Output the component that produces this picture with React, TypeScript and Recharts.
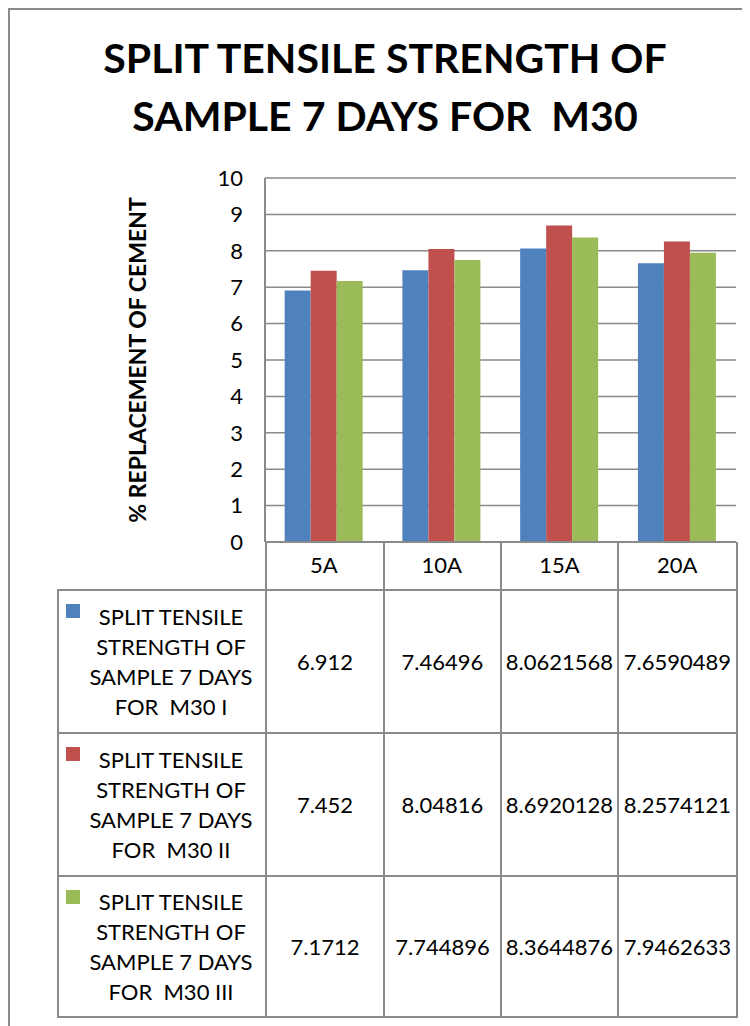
import { Bar, BarChart, CartesianGrid, XAxis, YAxis } from "recharts"

const categories = ["5A", "10A", "15A", "20A"]
const seriesNames = [
  "SPLIT TENSILE STRENGTH OF SAMPLE 7 DAYS FOR  M30 I",
  "SPLIT TENSILE STRENGTH OF SAMPLE 7 DAYS FOR  M30 II",
  "SPLIT TENSILE STRENGTH OF SAMPLE 7 DAYS FOR  M30 III",
]
const seriesI = [6.912, 7.46496, 8.0621568, 7.6590489]
const seriesII = [7.452, 8.04816, 8.6920128, 8.2574121]
const seriesIII = [7.1712, 7.744896, 8.3644876, 7.9462633]
const yTicks = [0, 1, 2, 3, 4, 5, 6, 7, 8, 9, 10]
const colors = ["#4F81BD", "#C0504D", "#9BBB59"]

const allSeries = [seriesI, seriesII, seriesIII]
const data = categories.map((name, i) => ({
  name,
  s0: seriesI[i],
  s1: seriesII[i],
  s2: seriesIII[i],
}))

const font = "Lato, 'Open Sans', sans-serif"
const line = "2px solid #8a8a8a"
const colW = [208, 118, 117, 117, 119]

// splits the long series name into the four lines Excel wrapped it into
function nameLines(n: string) {
  const rest = n.replace("SPLIT TENSILE STRENGTH OF SAMPLE 7 DAYS ", "")
  return ["SPLIT TENSILE", "STRENGTH OF", "SAMPLE 7 DAYS", rest]
}

export default function App() {
  return (
    <div
      style={{
        position: "relative",
        width: 760,
        height: 1040,
        borderLeft: line,
        borderTop: line,
        fontFamily: font,
        background: "#fff",
      }}
    >
      <div
        style={{
          position: "absolute",
          left: 0,
          top: 19,
          width: 750,
          textAlign: "center",
          fontWeight: 700,
          fontSize: 41,
          lineHeight: "58px",
          color: "#000",
        }}
      >
        SPLIT TENSILE STRENGTH OF
        <br />
        SAMPLE 7 DAYS FOR&nbsp; M30
      </div>

      <div style={{ position: "absolute", left: 0, top: 0 }}>
        <BarChart
          width={740}
          height={584}
          data={data}
          margin={{ top: 168, right: 14, left: 0, bottom: 0 }}
          barCategoryGap="16.7%"
          barGap={0}
        >
          <CartesianGrid vertical={false} stroke="#8a8a8a" strokeWidth={1.5} />
          <XAxis
            dataKey="name"
            height={52}
            tickLine={false}
            axisLine={{ stroke: "#8a8a8a", strokeWidth: 2 }}
            tick={{ fontSize: 22, fill: "#000", fontFamily: font }}
            tickMargin={9}
          />
          <YAxis
            domain={[0, 10]}
            ticks={yTicks}
            width={255}
            tickLine={false}
            axisLine={{ stroke: "#8a8a8a", strokeWidth: 2 }}
            tick={{ fontSize: 22, fill: "#000", fontFamily: font }}
            tickMargin={16}
            interval={0}
            label={{
              value: "% REPLACEMENT OF CEMENT",
              angle: -90,
              position: "center",
              dx: 0,
              style: { fontSize: 23, fontWeight: 700, fill: "#000", fontFamily: font },
            }}
          />
          {allSeries.map((_, k) => (
            <Bar key={k} dataKey={"s" + k} fill={colors[k]} isAnimationActive={false} />
          ))}
        </BarChart>
      </div>

      <table
        style={{
          position: "absolute",
          left: 47,
          top: 532,
          borderCollapse: "collapse",
          tableLayout: "fixed",
          fontFamily: font,
          fontSize: 22,
          color: "#000",
        }}
      >
        <colgroup>
          {colW.map((w, i) => (
            <col key={i} style={{ width: w }} />
          ))}
        </colgroup>
        <tbody>
          <tr style={{ height: 48 }}>
            <td style={{ border: "none", padding: 0 }} />
            {categories.map((c) => (
              <td key={c} style={{ border: line, borderTop: "none", padding: 0 }} />
            ))}
          </tr>
          {seriesNames.map((n, k) => (
            <tr key={n} style={{ height: k === 2 ? 141 : 143 }}>
              <td style={{ border: line, padding: 0, position: "relative" }}>
                <div
                  style={{
                    position: "absolute",
                    left: 7,
                    top: 13,
                    width: 14,
                    height: 14,
                    background: colors[k],
                  }}
                />
                <div style={{ textAlign: "center", lineHeight: "30px", paddingLeft: 18 }}>
                  {nameLines(n).map((t, j) => (
                    <div key={j} style={{ whiteSpace: "pre" }}>
                      {t}
                    </div>
                  ))}
                </div>
              </td>
              {allSeries[k].map((v, i) => (
                <td
                  key={i}
                  style={{
                    border: line,
                    padding: 0,
                    textAlign: "center",
                    whiteSpace: "nowrap",
                    overflow: "visible",
                  }}
                >
                  {String(v)}
                </td>
              ))}
            </tr>
          ))}
        </tbody>
      </table>
    </div>
  )
}
